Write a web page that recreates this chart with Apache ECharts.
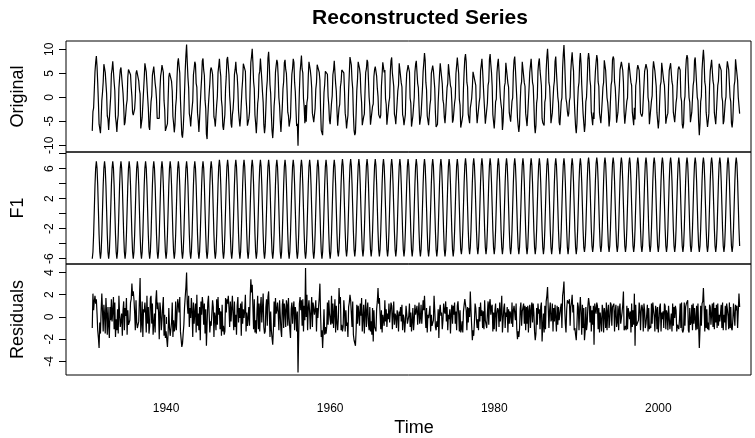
<!DOCTYPE html>
<html>
<head>
<meta charset="utf-8">
<script src="https://cdn.jsdelivr.net/npm/echarts@6/dist/echarts.min.js"></script>
<style>html,body{margin:0;padding:0;background:#fff}#chart{width:755px;height:438px}</style>
</head>
<body>
<div id="chart"></div>
<script>
// ---- data (monthly, Jan 1931 .. Dec 2009) ----
const startYear = 1931;
const monthsPerYear = 12;

const originalValues = [
-7.0,-3.0,-2.2,1.5,5.3,7.3,8.6,6.4,3.0,-1.0,-5.6,-5.6,
-7.5,-4.7,-0.7,1.0,3.2,6.9,7.2,5.2,5.0,0.8,-3.9,-4.5,
-6.8,-6.5,-2.1,0.2,4.9,5.9,7.5,7.4,3.2,1.4,-4.1,-5.3,
-7.2,-4.8,-3.7,1.9,4.0,5.7,6.2,6.1,2.6,0.9,-1.8,-5.8,
-5.2,-5.0,-1.6,-0.6,4.2,5.8,6.2,5.8,4.7,2.1,0.2,-3.2,
-3.7,-3.5,-2.4,-0.1,5.0,5.6,6.0,5.8,3.4,1.6,0.7,-6.5,
-6.6,-4.2,-4.1,1.2,3.9,7.1,7.4,5.3,5.3,0.1,-2.2,-6.1,
-6.8,-3.7,-0.9,0.3,4.6,5.0,6.4,6.4,2.9,1.7,-0.4,-4.4,
-4.7,-4.7,-4.4,1.4,4.4,5.3,6.7,6.6,5.2,-0.7,-2.6,-7.0,
-7.3,-7.1,-5.5,-0.4,4.2,5.1,5.3,4.9,3.3,1.3,-4.0,-5.4,
-7.3,-5.7,-1.9,-0.3,4.1,7.3,8.1,6.5,5.1,-0.4,-4.2,-7.8,
-8.4,-6.6,-3.5,1.1,5.6,8.8,11.0,7.3,4.1,2.0,-3.4,-4.3,
-6.1,-3.9,-2.3,-0.8,4.7,5.9,7.4,6.9,2.9,2.1,-3.3,-4.8,
-7.2,-4.5,-4.5,1.5,4.0,7.6,8.1,5.7,4.6,-0.6,-2.3,-7.7,
-8.7,-4.2,-1.4,0.8,2.9,5.7,6.2,5.6,4.8,1.1,-4.1,-4.7,
-6.1,-5.9,-1.6,0.2,5.2,6.5,8.0,5.7,4.4,-0.6,-2.0,-6.0,
-6.8,-6.7,-3.6,1.8,4.3,7.9,8.4,8.2,4.7,0.3,-1.8,-5.5,
-6.3,-3.6,-2.5,-0.1,4.8,5.8,7.4,5.2,4.5,1.9,-2.9,-4.6,
-6.1,-4.3,-3.9,1.6,3.6,7.0,7.1,6.7,5.4,-0.2,-2.5,-5.9,
-6.1,-4.5,-3.2,2.4,7.3,8.5,10.1,7.2,3.3,1.8,-3.7,-5.4,
-7.5,-4.8,-1.3,0.0,4.7,5.4,8.1,7.7,3.7,1.1,-1.0,-5.7,
-7.5,-6.0,-2.1,1.7,3.5,8.1,9.5,6.7,2.6,0.8,-3.5,-7.0,
-8.5,-6.2,-1.8,0.1,5.2,6.6,7.8,7.2,4.3,-0.1,-1.7,-4.9,
-7.2,-6.9,-2.0,1.8,3.3,7.2,7.8,5.8,5.0,1.4,-3.1,-3.8,
-6.1,-5.8,-4.2,1.0,4.8,6.0,8.0,7.3,3.1,1.2,-2.6,-6.0,
-5.5,-10.1,-3.9,1.4,5.3,6.9,8.7,5.9,5.1,-0.3,-2.0,-5.4,
-1.6,-5.1,-1.1,-0.2,4.4,7.4,7.6,5.6,4.2,2.0,-3.3,-4.2,
-5.2,-4.9,-2.3,1.7,3.0,6.8,7.1,6.9,5.2,3.6,-2.5,-6.9,
-7.2,-7.9,-3.5,1.0,2.7,5.4,5.7,5.4,4.8,0.2,-1.6,-4.8,
-5.6,-5.5,-1.2,0.3,4.7,5.7,7.6,7.5,2.9,1.3,-2.9,-5.9,
-5.8,-2.2,-1.5,2.2,3.2,5.7,6.0,5.8,5.1,1.3,-3.3,-4.5,
-6.5,-5.0,-3.8,1.4,4.9,8.4,8.8,6.7,3.5,1.8,-3.6,-6.9,
-7.9,-7.4,-3.3,1.5,3.7,7.4,7.6,6.0,4.8,0.9,-1.1,-5.8,
-5.8,-4.1,-3.5,1.2,5.2,5.9,7.8,7.3,3.7,0.0,-1.8,-5.7,
-6.1,-6.1,-1.9,-1.4,4.3,5.8,6.4,5.4,4.4,1.9,0.2,-3.6,
-4.0,-4.4,-3.7,2.3,2.6,7.3,7.6,5.2,5.7,-0.3,-1.5,-5.7,
-5.4,-5.3,-1.0,-0.1,5.3,7.6,8.3,5.1,4.8,2.3,-3.5,-4.2,
-5.6,-5.7,-1.1,1.4,2.5,7.1,7.4,7.2,3.0,2.2,-3.6,-4.3,
-5.8,-6.2,-3.6,1.9,5.0,5.8,6.7,6.6,5.3,-0.2,-1.2,-6.1,
-6.1,-3.9,-3.8,0.0,5.3,6.9,7.6,7.4,2.9,2.0,-1.8,-5.7,
-5.8,-3.6,-3.7,1.8,5.4,7.2,9.2,7.7,3.1,1.6,-3.9,-3.8,
-5.8,-3.7,-1.6,-0.5,5.0,5.2,6.6,5.6,5.9,1.9,-3.3,-6.2,
-6.1,-5.6,-1.1,-1.1,4.8,7.1,7.4,7.3,2.8,-0.6,-1.4,-4.2,
-5.4,-3.3,-3.3,2.0,2.9,6.9,7.1,7.0,2.4,1.9,-1.0,-5.3,
-4.7,-4.5,-1.2,-0.1,4.9,5.3,8.3,7.9,4.9,-0.5,-1.6,-6.3,
-6.5,-4.7,-3.7,1.9,5.4,8.1,9.0,7.4,3.1,2.2,-3.5,-3.8,
-5.4,-2.2,-1.3,-0.2,2.1,5.3,5.7,5.5,5.5,2.5,-2.8,-5.4,
-5.6,-5.6,-1.0,0.0,5.5,6.7,8.0,5.6,5.3,-0.2,-0.6,-5.5,
-5.8,-5.4,-1.2,2.5,3.3,7.9,9.0,6.9,5.2,2.3,-3.6,-3.7,
-6.5,-4.2,-0.9,-0.4,5.1,7.0,8.0,5.5,5.6,-0.1,-1.5,-2.6,
-6.8,-5.1,-1.2,2.3,3.0,7.2,7.4,7.3,2.9,2.1,-3.2,-3.6,
-5.1,-4.9,-0.8,-0.1,5.2,7.7,8.5,5.9,5.5,-0.2,-4.2,-5.9,
-7.2,-5.8,-1.1,2.4,3.2,7.4,7.8,7.6,3.0,2.3,-3.3,-3.3,
-6.0,-3.6,-3.7,2.1,5.2,5.6,8.0,7.7,3.1,2.4,-1.3,-5.9,
-7.5,-5.9,-1.2,-0.1,5.5,7.3,8.1,5.6,5.4,2.4,-4.4,-5.3,
-5.1,-5.9,-1.0,-0.2,5.7,8.4,10.1,7.5,3.1,2.3,-1.0,-5.4,
-5.6,-3.2,-3.6,2.2,3.4,7.5,8.5,5.3,5.6,0.1,-1.1,-5.2,
-5.8,-3.5,-0.9,-0.1,6.0,8.9,10.9,7.7,3.3,-0.3,-1.2,-2.9,
-4.0,-3.4,-0.7,0.0,5.4,7.8,9.4,7.1,5.5,-0.1,-3.4,-6.1,
-7.5,-5.4,-1.0,2.0,3.1,7.5,9.2,7.1,2.6,2.3,-3.4,-3.4,
-7.2,-5.7,-0.9,0.0,3.5,7.9,9.2,8.0,3.6,2.4,-3.1,-3.4,
-5.8,-3.2,-4.5,2.5,5.4,7.3,8.8,7.9,3.2,2.3,-3.3,-3.5,
-5.4,-5.5,-0.7,2.1,3.1,7.7,7.8,5.6,5.8,-0.1,-1.1,-3.1,
-6.1,-4.5,-0.8,2.6,3.4,7.8,8.5,8.0,3.2,2.1,-0.8,-5.3,
-5.6,-3.1,-3.3,2.2,5.7,5.9,7.4,7.3,5.6,3.2,-3.1,-5.5,
-5.9,-5.3,-0.8,-0.1,5.5,7.2,7.3,7.3,3.1,2.5,-3.1,-3.5,
-5.8,-2.2,-4.6,2.4,3.4,5.8,6.7,6.5,5.6,2.3,-3.3,-3.6,
-4.0,-3.4,-3.2,2.5,5.4,5.8,6.9,6.8,5.6,0.0,-1.0,-5.6,
-5.9,-5.4,-0.7,0.3,5.6,7.5,7.6,5.5,5.7,2.2,-3.2,-3.2,
-6.5,-4.8,-0.9,2.5,3.2,7.2,7.3,7.3,3.3,2.5,-0.8,-5.5,
-4.5,-3.8,-3.3,2.3,5.6,5.7,7.1,7.1,3.2,2.5,-3.1,-3.3,
-5.2,-3.2,-1.1,0.0,3.4,5.8,6.4,6.3,5.7,0.1,-0.8,-5.6,
-6.5,-5.5,-0.8,0.2,5.5,7.9,8.8,8.1,3.3,-0.1,-1.0,-5.2,
-5.6,-3.1,-3.1,2.5,3.5,7.7,8.3,5.6,5.6,0.0,-0.7,-5.2,
-7.9,-5.5,-0.9,0.2,5.7,8.1,9.9,7.7,3.2,2.3,-3.1,-3.4,
-6.2,-4.9,-3.3,2.4,5.5,5.9,7.8,7.8,3.4,2.6,-3.2,-3.3,
-5.6,-3.1,-3.1,2.5,3.4,7.0,7.1,7.1,5.6,0.1,-0.8,-5.6,
-4.9,-4.9,-0.8,0.1,5.7,7.5,7.6,5.7,5.6,0.0,-0.9,-5.4,
-6.3,-4.7,-0.9,2.5,3.4,7.9,8.1,7.9,3.5,0.0,0.1,-3.4
];

const f1Values = [
-6.0,-5.1,-2.8,0.5,3.8,6.1,7.0,6.1,3.8,0.5,-2.8,-5.1,
-6.0,-5.1,-2.8,0.5,3.8,6.1,7.0,6.1,3.8,0.5,-2.8,-5.1,
-6.0,-5.1,-2.8,0.5,3.8,6.1,7.0,6.1,3.8,0.5,-2.8,-5.1,
-6.0,-5.1,-2.8,0.5,3.8,6.1,7.0,6.1,3.8,0.5,-2.8,-5.1,
-6.0,-5.1,-2.8,0.5,3.8,6.1,7.0,6.1,3.8,0.5,-2.8,-5.1,
-6.0,-5.1,-2.8,0.5,3.8,6.1,7.0,6.1,3.8,0.5,-2.8,-5.1,
-6.0,-5.1,-2.8,0.5,3.8,6.1,7.0,6.1,3.8,0.5,-2.8,-5.1,
-6.0,-5.1,-2.8,0.5,3.8,6.1,7.0,6.1,3.8,0.5,-2.8,-5.1,
-6.0,-5.1,-2.8,0.5,3.8,6.1,7.0,6.1,3.8,0.5,-2.8,-5.1,
-6.0,-5.1,-2.8,0.5,3.8,6.1,7.0,6.1,3.8,0.5,-2.8,-5.1,
-6.0,-5.1,-2.8,0.5,3.8,6.1,7.0,6.1,3.8,0.5,-2.8,-5.1,
-6.0,-5.1,-2.8,0.5,3.8,6.1,7.0,6.1,3.8,0.5,-2.8,-5.1,
-6.0,-5.1,-2.8,0.5,3.8,6.1,7.0,6.1,3.8,0.5,-2.8,-5.1,
-6.0,-5.1,-2.8,0.5,3.8,6.1,7.0,6.1,3.8,0.5,-2.8,-5.1,
-6.0,-5.1,-2.8,0.5,3.8,6.1,7.0,6.1,3.8,0.5,-2.8,-5.1,
-6.0,-5.1,-2.7,0.6,3.9,6.3,7.2,6.3,3.9,0.6,-2.7,-5.1,
-6.0,-5.1,-2.7,0.6,3.9,6.3,7.2,6.3,3.9,0.6,-2.7,-5.1,
-6.0,-5.1,-2.7,0.6,3.9,6.3,7.2,6.3,3.9,0.6,-2.7,-5.1,
-6.0,-5.1,-2.7,0.6,3.9,6.3,7.2,6.3,3.9,0.6,-2.7,-5.1,
-6.0,-5.1,-2.7,0.6,3.9,6.3,7.2,6.3,3.9,0.6,-2.7,-5.1,
-6.0,-5.1,-2.7,0.6,3.9,6.3,7.2,6.3,3.9,0.6,-2.7,-5.1,
-6.0,-5.1,-2.7,0.6,3.9,6.3,7.2,6.3,3.9,0.6,-2.7,-5.1,
-6.0,-5.1,-2.7,0.6,3.9,6.3,7.2,6.3,3.9,0.6,-2.7,-5.1,
-6.0,-5.1,-2.7,0.6,3.9,6.3,7.2,6.3,3.9,0.6,-2.7,-5.1,
-6.0,-5.1,-2.7,0.6,3.9,6.3,7.2,6.3,3.9,0.6,-2.7,-5.1,
-6.0,-5.1,-2.7,0.6,3.9,6.3,7.2,6.3,3.9,0.6,-2.7,-5.1,
-6.0,-5.1,-2.7,0.6,3.9,6.3,7.2,6.3,3.9,0.6,-2.7,-5.1,
-6.0,-5.1,-2.7,0.6,3.9,6.3,7.2,6.3,3.9,0.6,-2.7,-5.1,
-6.0,-5.1,-2.7,0.6,3.9,6.3,7.2,6.3,3.9,0.6,-2.7,-5.1,
-6.0,-5.1,-2.7,0.6,3.9,6.3,7.2,6.3,3.9,0.6,-2.7,-5.1,
-5.7,-4.8,-2.4,0.8,4.0,6.4,7.3,6.4,4.0,0.8,-2.4,-4.8,
-5.7,-4.8,-2.4,0.8,4.0,6.4,7.3,6.4,4.0,0.8,-2.4,-4.8,
-5.7,-4.8,-2.4,0.8,4.0,6.4,7.3,6.4,4.0,0.8,-2.4,-4.8,
-5.7,-4.8,-2.4,0.8,4.0,6.4,7.3,6.4,4.0,0.8,-2.4,-4.8,
-5.7,-4.8,-2.4,0.8,4.0,6.4,7.3,6.4,4.0,0.8,-2.4,-4.8,
-5.7,-4.8,-2.4,0.8,4.0,6.4,7.3,6.4,4.0,0.8,-2.4,-4.8,
-5.7,-4.8,-2.4,0.8,4.0,6.4,7.3,6.4,4.0,0.8,-2.4,-4.8,
-5.7,-4.8,-2.4,0.8,4.0,6.4,7.3,6.4,4.0,0.8,-2.4,-4.8,
-5.7,-4.8,-2.4,0.8,4.0,6.4,7.3,6.4,4.0,0.8,-2.4,-4.8,
-5.7,-4.8,-2.4,0.8,4.0,6.4,7.3,6.4,4.0,0.8,-2.4,-4.8,
-5.7,-4.8,-2.4,0.8,4.0,6.4,7.3,6.4,4.0,0.8,-2.4,-4.8,
-5.7,-4.8,-2.4,0.8,4.0,6.4,7.3,6.4,4.0,0.8,-2.4,-4.8,
-5.7,-4.8,-2.4,0.8,4.0,6.4,7.3,6.4,4.0,0.8,-2.4,-4.8,
-5.7,-4.8,-2.4,0.8,4.0,6.4,7.3,6.4,4.0,0.8,-2.4,-4.8,
-5.7,-4.8,-2.4,0.8,4.0,6.4,7.3,6.4,4.0,0.8,-2.4,-4.8,
-5.4,-4.5,-2.2,1.0,4.2,6.5,7.4,6.5,4.2,1.0,-2.2,-4.5,
-5.4,-4.5,-2.2,1.0,4.2,6.5,7.4,6.5,4.2,1.0,-2.2,-4.5,
-5.4,-4.5,-2.2,1.0,4.2,6.5,7.4,6.5,4.2,1.0,-2.2,-4.5,
-5.4,-4.5,-2.2,1.0,4.2,6.5,7.4,6.5,4.2,1.0,-2.2,-4.5,
-5.4,-4.5,-2.2,1.0,4.2,6.5,7.4,6.5,4.2,1.0,-2.2,-4.5,
-5.4,-4.5,-2.2,1.0,4.2,6.5,7.4,6.5,4.2,1.0,-2.2,-4.5,
-5.4,-4.5,-2.2,1.0,4.2,6.5,7.4,6.5,4.2,1.0,-2.2,-4.5,
-5.4,-4.5,-2.2,1.0,4.2,6.5,7.4,6.5,4.2,1.0,-2.2,-4.5,
-5.4,-4.5,-2.2,1.0,4.2,6.5,7.4,6.5,4.2,1.0,-2.2,-4.5,
-5.4,-4.5,-2.2,1.0,4.2,6.5,7.4,6.5,4.2,1.0,-2.2,-4.5,
-5.4,-4.5,-2.2,1.0,4.2,6.5,7.4,6.5,4.2,1.0,-2.2,-4.5,
-5.4,-4.5,-2.2,1.0,4.2,6.5,7.4,6.5,4.2,1.0,-2.2,-4.5,
-5.4,-4.5,-2.2,1.0,4.2,6.5,7.4,6.5,4.2,1.0,-2.2,-4.5,
-5.4,-4.5,-2.2,1.0,4.2,6.5,7.4,6.5,4.2,1.0,-2.2,-4.5,
-5.4,-4.5,-2.2,1.0,4.2,6.5,7.4,6.5,4.2,1.0,-2.2,-4.5,
-5.1,-4.3,-2.0,1.2,4.4,6.7,7.5,6.7,4.4,1.2,-2.0,-4.3,
-5.1,-4.3,-2.0,1.2,4.4,6.7,7.5,6.7,4.4,1.2,-2.0,-4.3,
-5.1,-4.3,-2.0,1.2,4.4,6.7,7.5,6.7,4.4,1.2,-2.0,-4.3,
-5.1,-4.3,-2.0,1.2,4.4,6.7,7.5,6.7,4.4,1.2,-2.0,-4.3,
-5.1,-4.3,-2.0,1.2,4.4,6.7,7.5,6.7,4.4,1.2,-2.0,-4.3,
-5.1,-4.3,-2.0,1.2,4.4,6.7,7.5,6.7,4.4,1.2,-2.0,-4.3,
-5.1,-4.3,-2.0,1.2,4.4,6.7,7.5,6.7,4.4,1.2,-2.0,-4.3,
-5.1,-4.3,-2.0,1.2,4.4,6.7,7.5,6.7,4.4,1.2,-2.0,-4.3,
-5.1,-4.3,-2.0,1.2,4.4,6.7,7.5,6.7,4.4,1.2,-2.0,-4.3,
-5.1,-4.3,-2.0,1.2,4.4,6.7,7.5,6.7,4.4,1.2,-2.0,-4.3,
-5.1,-4.3,-2.0,1.2,4.4,6.7,7.5,6.7,4.4,1.2,-2.0,-4.3,
-5.1,-4.3,-2.0,1.2,4.4,6.7,7.5,6.7,4.4,1.2,-2.0,-4.3,
-5.1,-4.3,-2.0,1.2,4.4,6.7,7.5,6.7,4.4,1.2,-2.0,-4.3,
-5.1,-4.3,-2.0,1.2,4.4,6.7,7.5,6.7,4.4,1.2,-2.0,-4.3,
-5.1,-4.3,-2.0,1.2,4.4,6.7,7.5,6.7,4.4,1.2,-2.0,-4.3,
-5.1,-4.3,-2.0,1.2,4.4,6.7,7.5,6.7,4.4,1.2,-2.0,-4.3,
-5.1,-4.3,-2.0,1.2,4.4,6.7,7.5,6.7,4.4,1.2,-2.0,-4.3,
-5.1,-4.3,-2.0,1.2,4.4,6.7,7.5,6.7,4.4,1.2,-2.0,-4.3,
-5.1,-4.3,-2.0,1.2,4.4,6.7,7.5,6.7,4.4,1.2,-2.0,-4.3
];

const residualValues = [
-1.0,2.1,0.6,1.4,1.9,1.2,1.6,0.3,-1.2,-1.9,-2.8,-0.5,
-1.5,0.6,2.1,0.5,-1.3,1.1,0.2,-1.5,1.7,0.3,-1.6,0.9,
-0.8,-1.9,0.9,-0.3,1.6,-0.4,0.5,1.8,-1.1,1.3,-1.8,-0.2,
-1.2,0.7,-1.5,1.9,0.2,-0.9,-0.8,0.3,-1.7,0.6,1.4,-1.2,
0.8,0.1,1.7,-1.6,0.6,-0.7,-0.8,-0.3,1.3,1.6,3.0,1.9,
2.3,1.6,0.4,-1.2,1.5,-0.5,-1.0,-0.9,-0.4,1.6,3.5,-1.4,
-0.6,1.4,-1.8,0.7,0.4,1.3,0.4,-1.4,1.9,-0.6,0.9,-1.5,
-0.8,1.7,1.9,-0.6,1.2,-1.6,-0.6,0.3,-1.4,1.5,2.4,0.7,
1.3,0.4,-2.0,1.3,0.6,-1.2,-0.3,0.9,1.8,-1.7,0.2,-1.9,
-1.3,-2.0,-2.7,-1.4,0.8,-1.0,-1.7,-1.6,-0.5,1.3,-1.8,-0.3,
-1.3,-0.9,1.4,-1.2,0.3,1.6,1.1,0.4,1.8,-1.3,-1.4,-2.7,
-2.4,-1.5,-0.7,0.9,1.8,2.7,4.0,1.2,0.3,1.9,-0.9,0.8,
-0.1,1.7,0.5,-1.8,1.3,-0.6,0.4,1.2,-1.4,2.0,-0.8,0.3,
-1.2,0.9,-2.1,1.4,0.2,1.8,1.1,-0.7,1.2,-1.5,0.7,-2.6,
-2.7,1.3,1.9,0.3,-1.4,-0.4,-0.8,-0.9,1.5,0.9,-1.8,0.4,
-0.1,-1.2,1.6,-0.7,1.8,0.2,0.8,-1.1,0.5,-1.7,1.1,-1.3,
-0.8,-1.6,-1.3,1.7,0.4,1.6,1.2,1.9,0.8,-0.9,1.4,-0.4,
-0.3,1.9,0.2,-1.2,1.4,-0.9,0.2,-1.6,1.0,1.8,-0.5,0.8,
-0.1,1.2,-1.7,1.4,-0.6,0.7,-0.1,0.6,2.0,-1.3,0.4,-0.8,
-0.1,0.9,-0.8,1.8,3.4,2.2,2.9,0.9,-1.1,1.6,-1.4,-0.3,
-1.5,0.6,1.9,-1.1,1.2,-1.3,0.9,1.8,-0.5,0.8,2.1,-0.9,
-1.5,-1.3,0.9,1.6,-0.8,1.8,2.3,0.4,-1.8,0.5,-1.2,-1.9,
-2.5,-1.1,1.4,-0.9,1.7,0.3,0.6,1.3,0.4,-1.2,1.5,0.2,
-1.2,-1.8,1.1,1.6,-1.0,1.2,0.6,-0.9,1.5,1.1,-0.8,1.7,
-0.1,-1.1,-1.9,0.7,1.3,-0.6,0.8,1.4,-1.2,0.9,0.3,-1.3,
0.5,-5.0,-1.6,1.2,1.8,0.6,1.5,-0.8,1.6,-1.3,1.0,-0.3,
4.4,0.0,2.0,-1.2,0.8,1.5,0.4,-1.1,0.6,1.8,-0.9,1.3,
0.8,0.2,0.7,1.5,-1.3,0.8,-0.1,0.9,1.7,3.0,0.2,-1.8,
-1.2,-2.8,-1.1,0.7,-1.6,-0.9,-1.5,-0.9,1.3,-0.7,1.5,0.3,
0.4,-0.7,1.9,-0.6,1.2,-1.0,0.4,1.6,-1.4,1.0,-0.5,-1.2,
-0.1,2.6,1.2,1.8,-1.2,-0.7,-1.3,-0.9,1.5,0.5,-1.3,0.6,
-0.8,-0.5,-1.8,0.9,1.3,2.0,1.5,0.3,-0.9,1.4,-1.6,-2.1,
-2.2,-2.6,-1.2,1.1,-0.6,1.0,0.3,-0.8,1.2,0.1,1.7,-1.3,
-0.1,1.1,-1.5,0.4,1.6,-0.9,0.5,1.3,-0.6,-1.2,0.9,-1.3,
-0.4,-1.6,0.8,-2.2,0.6,-0.9,-0.9,-1.3,0.7,1.4,2.6,1.2,
1.7,0.3,-1.1,0.6,-1.4,0.2,0.3,-0.8,1.5,-0.4,0.7,-0.9,
0.3,-0.2,1.2,-0.5,0.4,1.3,1.0,-1.1,0.2,1.4,-0.7,0.3,
0.1,-1.0,0.6,0.2,-1.3,0.5,0.1,0.9,-0.4,1.1,-1.2,0.2,
-0.1,-1.4,-0.5,1.0,0.3,-0.6,-0.6,0.1,1.2,-0.9,0.4,-1.3,
-0.4,0.8,-1.2,-0.3,1.1,0.2,0.3,1.0,-0.7,0.5,1.3,-0.6,
-0.1,1.1,-0.6,0.4,1.5,0.6,1.9,0.3,-1.0,0.8,-1.4,0.2,
-0.1,0.4,1.0,-1.3,0.2,-0.8,-0.7,-0.3,1.9,0.6,-0.9,-1.2,
-0.4,-0.9,0.7,-1.9,0.5,1.1,0.1,0.4,-1.1,-0.3,1.2,0.5,
0.3,1.4,-0.4,0.9,-1.2,0.2,-0.2,0.7,-1.5,0.3,1.1,-0.6,
1.0,0.2,1.3,-0.6,0.5,-1.2,1.0,1.4,0.3,-1.3,0.6,-1.4,
-1.1,-0.4,-1.4,0.5,1.1,1.6,1.6,0.6,-1.2,0.9,-0.5,0.8,
0.0,2.3,0.6,-0.8,-2.1,-1.2,-1.7,-0.5,1.2,0.8,-0.3,-1.0,
-0.2,-1.2,0.9,-0.4,1.3,0.1,0.6,-1.0,0.5,-1.1,1.5,-0.3,
-0.4,-1.0,0.3,1.4,-0.7,1.2,1.6,0.2,0.9,1.1,-1.3,0.4,
-1.1,0.6,1.2,-1.3,0.3,0.8,0.6,-0.9,1.3,-0.4,0.5,1.9,
-1.4,-0.3,0.8,1.2,-1.0,0.4,0.0,0.9,-1.4,0.7,-0.6,0.5,
0.3,-0.6,1.3,-0.9,0.6,1.0,1.1,-0.3,1.2,-1.1,-2.0,-1.3,
-1.8,-1.1,0.7,1.3,-0.8,0.5,0.4,1.2,-0.6,1.0,-1.2,0.9,
-0.6,1.0,-1.4,0.6,1.1,-1.0,0.6,1.3,-0.5,1.2,0.4,-1.3,
-2.1,-1.5,0.8,-0.7,1.2,0.3,0.7,-1.1,0.9,1.3,-2.2,-0.8,
0.3,-1.4,1.0,-1.1,1.4,1.9,2.7,0.8,-1.0,0.6,1.3,-0.4,
-0.2,1.2,-1.3,0.8,-0.4,1.1,1.1,-1.3,1.0,-0.7,0.9,-0.3,
-0.4,0.8,1.2,-1.0,1.9,2.4,3.2,1.0,-0.6,-1.4,0.7,1.5,
1.4,1.2,1.6,-0.8,0.9,1.3,2.0,0.4,1.1,-1.2,-1.0,-1.6,
-2.1,-0.7,1.3,0.9,-1.2,0.7,1.8,0.3,-1.6,1.1,-1.0,0.8,
-2.1,-1.3,0.9,-1.2,-0.6,1.0,1.7,1.2,-0.5,1.0,-1.3,0.6,
-0.7,1.0,-2.5,1.2,0.7,0.3,1.3,1.0,-1.1,0.8,-1.4,0.4,
-0.3,-1.3,1.1,0.6,-1.4,0.8,0.3,-1.0,1.3,-1.2,0.5,1.1,
-1.0,-0.3,1.3,1.1,-0.8,0.9,1.0,1.2,-1.3,0.5,1.1,-0.9,
-0.5,1.0,-1.2,0.7,1.2,-0.6,-0.1,0.4,1.1,2.3,-1.2,-1.0,
-0.8,-1.2,1.0,-1.1,0.8,0.3,-0.2,0.5,-1.4,1.2,-0.9,0.6,
-0.7,2.1,-2.6,1.1,-0.8,-0.9,-0.8,-0.3,1.3,0.9,-1.2,0.5,
1.1,0.7,-1.3,1.2,0.6,-1.0,-0.6,0.2,1.1,-1.3,0.8,-1.1,
-0.8,-1.0,1.2,-0.6,1.3,0.6,0.1,-1.3,1.0,0.7,-1.1,0.9,
-1.4,-0.4,0.9,1.2,-1.3,0.4,-0.2,0.5,-1.0,1.2,1.0,-1.1,
0.6,0.3,-1.2,1.0,1.1,-1.1,-0.4,0.3,-1.3,1.2,-0.8,0.9,
-0.1,1.0,0.6,-1.3,-0.7,-0.9,-1.1,-0.2,1.2,-1.0,1.3,-1.2,
-1.4,-1.1,1.3,-0.8,0.9,1.2,1.3,1.5,-1.2,-1.4,0.8,-0.7,
-0.5,1.1,-1.2,1.2,-0.6,0.8,0.8,-1.2,1.0,-1.1,1.2,-0.8,
-2.8,-1.1,1.0,-0.8,1.2,1.4,2.6,0.9,-1.3,1.0,-1.0,0.7,
-1.1,-0.5,-1.2,1.1,0.9,-0.7,0.3,1.2,-0.9,1.3,-1.1,0.8,
-0.5,1.1,-1.0,1.2,-0.8,0.2,-0.4,0.3,1.1,-1.0,1.3,-1.2,
0.2,-0.5,1.0,-1.2,1.2,0.7,0.1,-1.1,1.3,-1.0,0.9,-1.0,
-1.2,-0.3,1.2,1.1,-0.8,1.1,0.6,1.0,-1.0,-1.1,2.1,0.9
];

// axis ticks / labels
const timeTicks = [1940, 1960, 1980, 2000];
const originalTicks = [-10, -5, 0, 5, 10];
const f1Ticks = [-6, -4, -2, 0, 2, 4, 6, 8];
const f1TickLabels = [-6, -2, 2, 6];
const residualTicks = [-4, -2, 0, 2, 4];
const panelNames = ['Original', 'F1', 'Residuals'];
const chartTitle = 'Reconstructed Series';
const timeLabel = 'Time';

// ---- chart ----
const FONT = '"Liberation Sans", Arial, Helvetica, sans-serif';
function toPairs(vals) {
  return vals.map((v, i) => [startYear + i / monthsPerYear, v]);
}
const gridLeft = 66, gridW = 685;
const grids = [
  { left: gridLeft, top: 41, width: gridW, height: 111 },
  { left: gridLeft, top: 152, width: gridW, height: 112 },
  { left: gridLeft, top: 264, width: gridW, height: 111 }
].map(g => Object.assign(g, { show: true, borderColor: '#000', borderWidth: 1, backgroundColor: 'transparent', containLabel: false, outerBoundsMode: 'none' }));

const xMin = 1927.8, xMax = 2011.3;
function xAxis(i) {
  const last = i === 2;
  return {
    type: 'value', gridIndex: i, min: xMin, max: xMax,
    axisLine: { show: false }, splitLine: { show: false },
    axisTick: { show: last, length: 7, customValues: timeTicks, lineStyle: { color: '#000', width: 1 } },
    axisLabel: { show: last, customValues: timeTicks, margin: 28, fontSize: 12, color: '#000', fontFamily: FONT, formatter: v => String(v) }
  };
}
function yAxis(i, min, max, ticks, labels) {
  return {
    type: 'value', gridIndex: i, min: min, max: max, position: 'left',
    axisLine: { show: false }, splitLine: { show: false },
    axisTick: { show: true, length: 7, customValues: ticks, lineStyle: { color: '#000', width: 1 } },
    axisLabel: { show: true, customValues: labels, rotate: 90, margin: 10, fontSize: 12, color: '#000', fontFamily: FONT, formatter: v => String(v) },
    name: panelNames[i], nameLocation: 'middle', nameRotate: 90, nameGap: 39,
    nameTextStyle: { fontSize: 18, color: '#000', fontFamily: FONT }
  };
}
function lineSeries(i, vals) {
  return {
    type: 'line', xAxisIndex: i, yAxisIndex: i, data: toPairs(vals),
    showSymbol: false, symbol: 'none', silent: true, animation: false,
    lineStyle: { color: '#000', width: 1.2 }
  };
}

const chart = echarts.init(document.getElementById('chart'), null, { renderer: 'canvas', width: 755, height: 438 });
chart.setOption({
  animation: false,
  backgroundColor: '#fff',
  grid: grids,
  xAxis: [xAxis(0), xAxis(1), xAxis(2)],
  yAxis: [
    yAxis(0, -11.4, 11.73, originalTicks, originalTicks),
    yAxis(1, -6.7, 8.23, f1Ticks, f1TickLabels),
    yAxis(2, -5.23, 4.77, residualTicks, residualTicks)
  ],
  series: [lineSeries(0, originalValues), lineSeries(1, f1Values), lineSeries(2, residualValues)],
  graphic: [
    { type: 'text', x: 420, y: 18,
      style: { text: chartTitle, font: 'bold 21px ' + FONT, fill: '#000', align: 'center', verticalAlign: 'middle' } },
    { type: 'text', x: 414, y: 428,
      style: { text: timeLabel, font: '18px ' + FONT, fill: '#000', align: 'center', verticalAlign: 'middle' } }
  ]
});
</script>
</body>
</html>
